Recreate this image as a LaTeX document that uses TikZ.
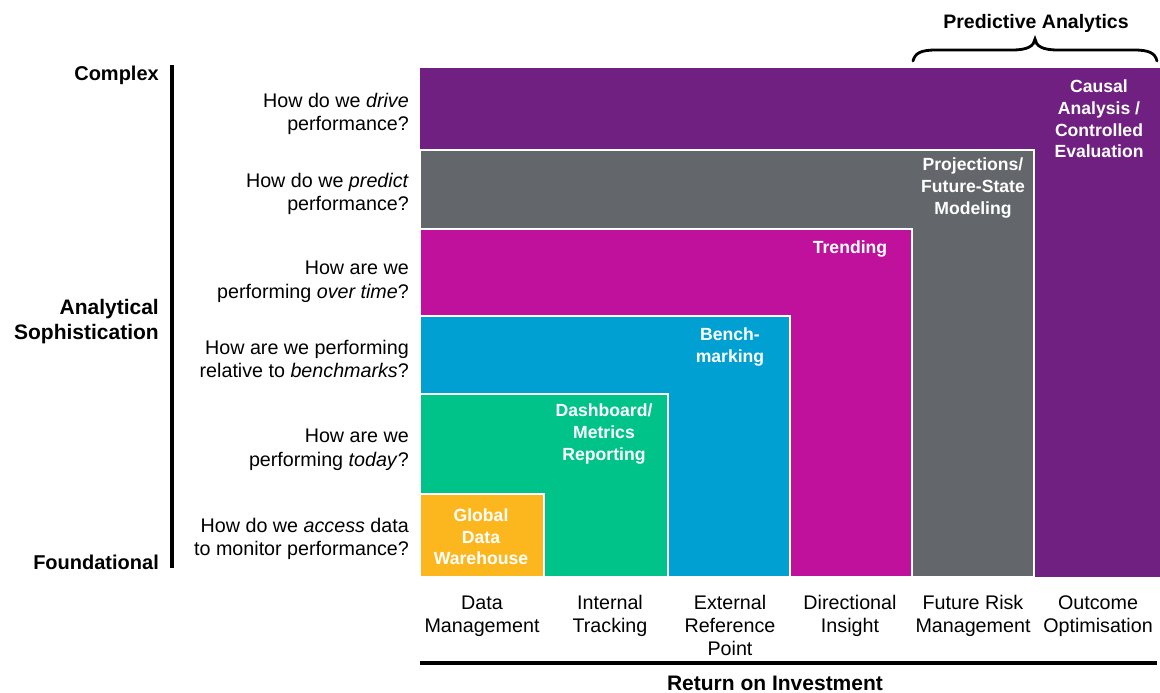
\documentclass[tikz,border=0pt]{standalone}
\usepackage{fontspec}
\setmainfont{Liberation Sans}
\definecolor{cpurple}{RGB}{111,32,128}
\definecolor{cgray}{RGB}{99,102,106}
\definecolor{cmagenta}{RGB}{192,17,156}
\definecolor{cblue}{RGB}{0,161,210}
\definecolor{cgreen}{RGB}{0,195,137}
\definecolor{corange}{RGB}{253,183,30}
\tikzset{
  tier/.style={draw=white, line width=1.6pt},
  boxlabel/.style={text=white, font=\bfseries\fontsize{17.6}{21.6}\selectfont, align=center, inner sep=0pt},
  question/.style={anchor=east, align=right, font=\fontsize{19.7}{23.5}\selectfont, inner sep=0pt},
  axislabel/.style={anchor=east, align=right, font=\bfseries\fontsize{20}{25}\selectfont, inner sep=0pt},
  collabel/.style={align=center, font=\fontsize{19.7}{23.2}\selectfont, inner sep=0pt, anchor=north},
  axisline/.style={line width=3.5pt},
}
\begin{document}
\begin{tikzpicture}[x=1pt,y=-1pt]
\useasboundingbox (0,0) rectangle (1160,693);
% tiers
\fill[cpurple] (420,68) rectangle (1160,577);
\draw[white, line width=1pt] (420,68) -- (1160,68);
\draw[tier, fill=cgray] (420,150) rectangle (1034,577);
\draw[tier, fill=cmagenta] (420,229) rectangle (912,577);
\draw[tier, fill=cblue] (420,316) rectangle (790,577);
\draw[tier, fill=cgreen] (420,394) rectangle (668,577);
\draw[tier, fill=corange] (420,494) rectangle (544,577);
% box labels
\node[boxlabel] (causal) at (1099,119) {Causal\\Analysis /\\Controlled\\Evaluation};
\node[boxlabel] (proj) at (973,188) {Projections/\\Future-State\\Modeling};
\node[boxlabel] (trend) at (850,249) {Trending};
\node[boxlabel] (bench) at (730,347) {Bench-\\marking};
\node[boxlabel] (dash) at (604,434) {Dashboard/\\Metrics\\Reporting};
\node[boxlabel] (gdw) at (481,537) {Global\\Data\\Warehouse};
% questions
\node[question] (q6) at (409,114) {How do we \textit{drive}\\performance?};
\node[question] (q5) at (409,194) {How do we \textit{predict}\\performance?};
\node[question] (q4) at (409,282) {How are we\\performing \textit{over time}?};
\node[question] (q3) at (409,359) {How are we performing\\relative to \textit{benchmarks}?};
\node[question] (q2) at (409,450) {How are we\\performing \textit{today}?};
\node[question] (q1) at (409,539) {How do we \textit{access} data\\to monitor performance?};
% vertical axis
\coordinate (vtop) at (172,65);
\coordinate (vbot) at (172,568);
\draw[axisline] (vtop) -- (vbot);
\node[axislabel] (complex) at (159,75) {Complex};
\node[axislabel, font=\bfseries\fontsize{21}{25}\selectfont] (soph) at (159,322) {Analytical\\Sophistication};
\node[axislabel] (found) at (159,562) {Foundational};
% column labels
\node[collabel] (c1) at (482,593) {\strut Data\\Management};
\node[collabel] (c2) at (610,593) {\strut Internal\\Tracking};
\node[collabel] (c3) at (730,593) {\strut External\\Reference\\Point};
\node[collabel] (c4) at (850,593) {\strut Directional\\Insight};
\node[collabel] (c5) at (973,593) {\strut Future Risk\\Management};
\node[collabel] (c6) at (1098,593) {\strut Outcome\\Optimisation};
% horizontal axis
\coordinate (hl) at (420,663);
\coordinate (hr) at (1157,663);
\draw[axisline] (hl) -- (hr);
\node[font=\bfseries\fontsize{21}{24}\selectfont, inner sep=0pt] (roi) at (775,683) {Return on Investment};
% brace
\draw[line width=2.8pt, line cap=round] (913,61) .. controls (915,53) and (921,50) .. (936,50) -- (1012,50) .. controls (1028,50) and (1034,46) .. (1035,39) .. controls (1036,46) and (1042,50) .. (1058,50) -- (1134,50) .. controls (1149,50) and (1155,53) .. (1157,61);
\node[font=\bfseries\fontsize{19.5}{23}\selectfont, inner sep=0pt] (pa) at (1036,23) {Predictive Analytics};
\end{tikzpicture}
\end{document}
